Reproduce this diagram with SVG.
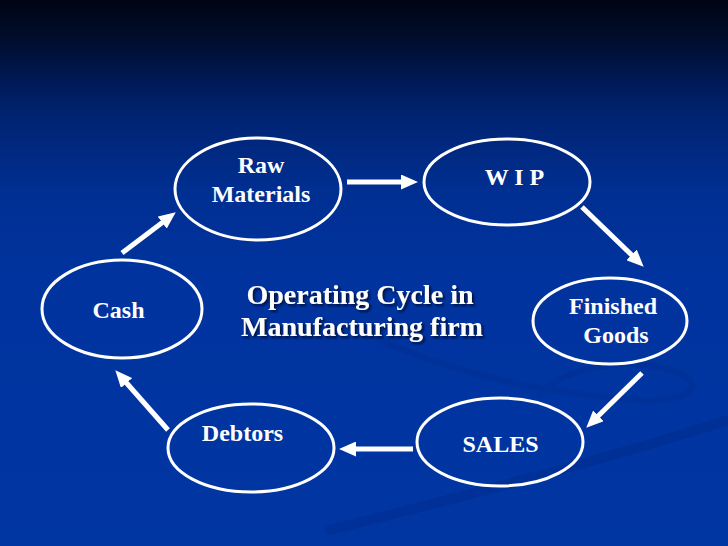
<svg xmlns="http://www.w3.org/2000/svg" width="728" height="546" viewBox="0 0 728 546">
<defs>
<linearGradient id="bg" x1="0" y1="0" x2="0" y2="546" gradientUnits="userSpaceOnUse">
<stop offset="0" stop-color="#000414"/>
<stop offset="0.07" stop-color="#000d2b"/>
<stop offset="0.15" stop-color="#001a57"/>
<stop offset="0.22" stop-color="#002474"/>
<stop offset="0.35" stop-color="#002f92"/>
<stop offset="0.5" stop-color="#00339e"/>
<stop offset="1" stop-color="#0036a3"/>
</linearGradient>
<marker id="ah" markerUnits="userSpaceOnUse" markerWidth="17" markerHeight="15" refX="6" refY="7.5" orient="auto">
<path d="M0,0 L17,7.5 L0,15 z" fill="#ffffff"/>
</marker>
<filter id="sh" x="-10%" y="-20%" width="120%" height="150%">
<feDropShadow dx="2" dy="2" stdDeviation="1" flood-color="#000a30" flood-opacity="0.9"/>
</filter>
</defs>
<style>
.node ellipse{fill:none;stroke:#ffffff;stroke-width:3}
.lbl{font-family:"Liberation Serif","Times New Roman",serif;font-weight:bold;font-size:24px;fill:#ffffff;text-anchor:middle}
.title{font-family:"Liberation Serif","Times New Roman",serif;font-weight:bold;font-size:28px;fill:#ffffff;text-anchor:middle}
.conn line{stroke:#ffffff;stroke-width:5;marker-end:url(#ah)}
</style>
<rect x="0" y="0" width="728" height="546" fill="url(#bg)"/>
<g id="swoosh" fill="none" stroke="#001f70" stroke-linecap="round">
<path d="M330,530 C470,495 620,455 728,420" stroke-width="10" opacity="0.2"/>
<path d="M380,340 C470,380 560,395 640,400 C700,402 705,380 670,370 C620,355 560,370 540,395" stroke-width="6" opacity="0.15"/>
</g>
<g id="title" filter="url(#sh)">
<text x="360" y="304" class="title">Operating Cycle in</text>
<text x="362" y="336" class="title">Manufacturing firm</text>
</g>
<g id="raw" class="node">
<ellipse cx="258" cy="189" rx="83" ry="51"/>
<text x="261" y="173" class="lbl">Raw</text>
<text x="261" y="202" class="lbl">Materials</text>
</g>
<g id="wip" class="node">
<ellipse cx="507" cy="182" rx="83" ry="43"/>
<text x="514.5" y="185" class="lbl">W I P</text>
</g>
<g id="finished" class="node">
<ellipse cx="610" cy="321" rx="77" ry="43"/>
<text x="613" y="314" class="lbl">Finished</text>
<text x="616" y="343" class="lbl">Goods</text>
</g>
<g id="sales" class="node">
<ellipse cx="500" cy="442" rx="83" ry="44"/>
<text x="500.5" y="452" class="lbl">SALES</text>
</g>
<g id="debtors" class="node">
<ellipse cx="251" cy="448" rx="83" ry="44"/>
<text x="242.5" y="441" class="lbl">Debtors</text>
</g>
<g id="cash" class="node">
<ellipse cx="122" cy="309" rx="80" ry="49"/>
<text x="118.5" y="318" class="lbl">Cash</text>
</g>
<g id="connectors" class="conn">
<line x1="122" y1="253" x2="167" y2="219"/>
<line x1="347" y1="182" x2="407" y2="182"/>
<line x1="582" y1="207" x2="635.8" y2="259"/>
<line x1="642" y1="373" x2="594.1" y2="420"/>
<line x1="413" y1="449" x2="350" y2="449"/>
<line x1="168" y1="430" x2="122.6" y2="378.5"/>
</g>
</svg>
